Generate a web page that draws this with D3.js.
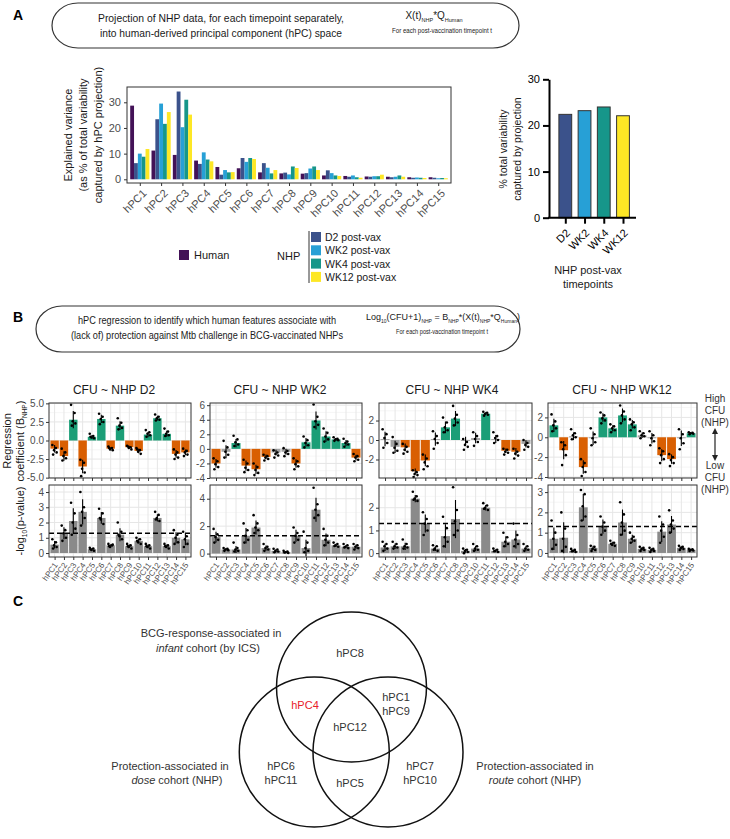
<!DOCTYPE html>
<html>
<head>
<meta charset="utf-8">
<script src="https://cdn.jsdelivr.net/npm/d3@7"></script>
<style>
  body { margin: 0; background: #fff; }
  svg text { font-family: "Liberation Sans", Arial, Helvetica, sans-serif; }
</style>
</head>
<body>
<svg id="fig" width="730" height="839"></svg>
<script>
// ---------- data ----------
const hpcLabels = ["hPC1", "hPC2", "hPC3", "hPC4", "hPC5", "hPC6", "hPC7", "hPC8",
  "hPC9", "hPC10", "hPC11", "hPC12", "hPC13", "hPC14", "hPC15"];

// panel A, explained variance (% of total variability captured by hPC projection)
const varGroups = ["Human", "D2 post-vax", "WK2 post-vax", "WK4 post-vax", "WK12 post-vax"];
const varHuman = [28.7, 11.2, 9.5, 7.3, 4.8, 4.3, 2.7, 2.3, 2.2, 1.5, 1.3, 1.1, 1.0, 0.8, 0.8];
const varD2 = [6.3, 23.4, 34.2, 6.0, 1.8, 8.3, 6.3, 2.6, 2.4, 3.5, 1.0, 1.0, 0.8, 0.6, 0.6];
const varWK2 = [10.0, 29.5, 20.3, 10.5, 3.6, 6.8, 4.5, 1.9, 4.2, 2.4, 1.5, 1.2, 1.0, 0.7, 0.4];
const varWK4 = [8.8, 21.6, 31.0, 7.7, 2.7, 8.3, 2.3, 5.0, 5.0, 1.5, 0.8, 1.2, 1.5, 0.6, 0.5];
const varWK12 = [11.8, 26.2, 25.2, 7.0, 2.8, 7.9, 3.6, 4.4, 3.6, 1.3, 0.6, 1.8, 1.0, 0.5, 0.4];

// panel A, total variability captured per NHP timepoint
const timepoints = ["D2", "WK2", "WK4", "WK12"];
const totalCaptured = [22.4, 23.2, 24.0, 22.1];

// panel B, regression coefficients ("+" / "-" / "0" n.s.)
const regTitles = ["CFU ~ NHP D2", "CFU ~ NHP WK2", "CFU ~ NHP WK4", "CFU ~ NHP WK12"];

const coefD2 = [-1.1, -2.1, 2.8, -3.5, 0.5, 2.9, -1.1, 2.0, -0.9, -1.4, 0.8, 3.0, 0.9, -1.8, -1.6];
const signD2 = ["-", "-", "+", "-", "+", "+", "-", "+", "-", "-", "+", "+", "+", "-", "-"];
const coefDotsD2 = ["-0.6 -1.0 -1.3 -1.6 -1.9", "-1.1 -1.6 -2.1 -2.4 -2.7", "4.8 3.7 2.6 2.3 2.0",
  "-2.6 -3.0 -3.8 -4.3 -4.8", "0.9 0.6 0.4 0.3 0.5", "3.6 3.2 2.9 2.5 2.2", "-0.8 -1.0 -1.2 -1.3 -1.0",
  "3.0 2.4 2.0 1.7 1.5", "-0.7 -0.9 -1.0 -1.2 -0.8", "-1.0 -1.3 -1.5 -1.8 -1.2", "1.4 1.1 0.9 0.7 0.5",
  "3.5 3.2 3.0 2.8 2.7", "1.6 1.2 0.9 0.7 0.6", "-1.2 -1.6 -1.9 -2.3 -2.5", "-1.1 -1.4 -1.6 -1.9 -2.1"];
const pD2 = [0.55, 1.3, 2.1, 2.7, 0.25, 2.3, 0.5, 1.2, 0.45, 0.8, 0.45, 2.3, 0.45, 1.0, 0.9];
const pDotsD2 = ["0.9 0.7 0.5 0.4 0.3", "1.8 1.5 1.3 1.0 0.8", "3.3 2.6 2.0 1.6 1.2", "4.0 3.0 2.7 2.3 1.8",
  "0.35 0.3 0.2 0.15 0.25", "2.9 2.6 2.2 1.9 2.3", "0.6 0.5 0.4 0.55 0.45", "2.0 1.4 1.1 0.9 1.2",
  "0.6 0.5 0.4 0.3 0.45", "1.0 0.9 0.7 0.6 0.8", "0.6 0.5 0.4 0.3 0.45", "2.7 2.5 2.3 2.1 2.2",
  "0.6 0.5 0.4 0.3 0.45", "1.5 1.2 1.0 0.7 0.6", "1.4 1.1 0.9 0.6 0.4"];

const coefWK2 = [-2.0, -0.4, 0.8, -2.3, -2.8, -1.1, -0.5, -0.4, -2.0, 0.9, 3.9, 1.7, 1.3, 0.8, -1.2];
const signWK2 = ["-", "0", "+", "-", "-", "-", "0", "0", "-", "+", "+", "+", "+", "+", "-"];
const coefDotsWK2 = ["-1.3 -1.7 -2.1 -2.5 -2.8", "1.1 0.2 -0.4 -0.8 -1.2", "1.8 1.3 0.9 0.6 0.4",
  "-1.5 -2.0 -2.6 -2.9 -3.2", "-2.0 -2.5 -2.9 -3.3 -3.6", "-0.8 -1.0 -1.2 -1.4 -1.6", "-0.2 -0.5 -0.7 -0.9 -1.2",
  "0.1 -0.3 -0.5 -0.7 -1.0", "-1.3 -1.7 -2.1 -2.4 -2.8", "1.7 1.2 0.8 0.5 0.2", "6.1 4.4 3.8 3.3 3.0",
  "2.8 2.2 1.7 1.3 1.0", "1.6 1.4 1.3 1.2 1.1", "1.4 1.0 0.8 0.6 0.3", "-0.7 -1.0 -1.2 -1.5 -1.7"];
const pWK2 = [1.2, 0.3, 0.3, 1.3, 1.9, 0.4, 0.2, 0.1, 1.3, 0.4, 3.2, 1.0, 0.6, 0.5, 0.5];
const pDotsWK2 = ["1.8 1.4 1.2 1.0 0.8", "0.4 0.35 0.3 0.25 0.2", "0.8 0.4 0.3 0.2 0.15", "2.2 1.7 1.3 1.0 0.8",
  "2.8 2.2 1.9 1.7 1.5", "0.7 0.5 0.4 0.3 0.2", "0.35 0.3 0.2 0.15 0.1", "0.2 0.15 0.1 0.05 0.08",
  "1.9 1.5 1.3 1.0 0.8", "1.6 0.8 0.4 0.2 0.1", "4.8 3.6 3.2 2.8 2.6", "1.8 1.3 1.0 0.8 0.6",
  "0.8 0.7 0.6 0.5 0.55", "0.7 0.6 0.5 0.4 0.45", "0.7 0.6 0.5 0.4 0.3"];

const coefWK4 = [0.1, -0.7, -0.75, -3.2, -2.1, 0.1, 1.3, 2.2, -0.1, 0.2, 2.7, 0.1, -1.1, -1.2, -0.4];
const signWK4 = ["0", "0", "-", "-", "-", "0", "+", "+", "0", "0", "+", "0", "-", "-", "0"];
const coefDotsWK4 = ["1.1 0.6 0.2 -0.3 -0.8", "0.3 -0.4 -0.8 -1.1 -1.3", "-0.4 -0.7 -1.0 -1.2 -1.4",
  "-3.1 -3.3 -3.5 -3.6 -3.8", "-1.5 -1.9 -2.3 -2.7 -3.0", "0.9 0.4 0.1 -0.3 -0.9", "2.3 1.8 1.3 1.0 0.8",
  "3.5 2.6 2.2 1.8 1.5", "0.1 -0.2 -0.5 -0.7 -1.0", "0.8 0.4 0.1 -0.2 -0.6", "2.9 2.8 2.7 2.6 2.5",
  "0.8 0.4 0.2 0.0 -0.3", "-0.9 -1.0 -1.2 -1.3 -1.5", "-0.9 -1.2 -1.4 -1.6 -1.9", "0.0 -0.3 -0.5 -0.7 -1.0"];
const pWK4 = [0.25, 0.3, 0.3, 2.4, 1.3, 0.2, 0.75, 1.5, 0.1, 0.2, 2.0, 0.1, 0.5, 0.6, 0.2];
const pDotsWK4 = ["0.5 0.4 0.3 0.2 0.1", "0.5 0.4 0.3 0.25 0.2", "0.6 0.4 0.3 0.25 0.2", "2.7 2.5 2.4 2.3 2.35",
  "1.8 1.5 1.3 1.0 0.8", "0.35 0.3 0.2 0.1 0.15", "1.6 1.1 0.7 0.5 0.3", "2.9 1.9 1.4 1.0 0.8",
  "0.2 0.15 0.1 0.05 0.0", "0.4 0.3 0.2 0.15 0.1", "2.2 2.1 2.0 1.9 1.95", "0.2 0.15 0.1 0.05 0.08",
  "0.9 0.7 0.5 0.4 0.3", "1.3 0.8 0.6 0.4 0.3", "0.4 0.3 0.2 0.15 0.1"];

const coefWK12 = [1.2, -1.3, 0.1, -3.0, -0.1, 2.0, 0.9, 2.2, 1.3, 0.2, -0.1, -1.8, -2.2, -0.1, 0.4];
const signWK12 = ["+", "-", "0", "-", "0", "+", "+", "+", "+", "0", "0", "-", "-", "0", "+"];
const coefDotsWK12 = ["2.3 1.6 1.2 0.9 0.6", "-0.5 -0.8 -1.2 -1.8 -2.8", "0.8 0.4 0.2 0.0 -0.2",
  "-2.2 -2.6 -3.0 -3.5 -3.9", "0.9 0.3 -0.1 -0.5 -0.8", "2.5 2.2 1.9 1.7 1.4", "1.3 1.1 0.9 0.7 0.5",
  "3.2 2.6 2.2 1.8 1.4", "1.8 1.5 1.3 1.0 0.7", "0.6 0.4 0.2 0.1 -0.1", "0.6 0.2 -0.1 -0.4 -0.8",
  "-1.1 -1.4 -1.8 -2.2 -2.6", "-1.7 -2.0 -2.3 -2.6 -2.9", "0.8 0.3 -0.1 -0.6 -1.2", "0.5 0.45 0.4 0.35 0.3"];
const pWK12 = [0.7, 0.75, 0.1, 2.25, 0.25, 1.3, 0.45, 1.5, 0.7, 0.2, 0.15, 1.05, 1.4, 0.25, 0.15];
const pDotsWK12 = ["1.6 1.0 0.7 0.4 0.2", "2.0 1.2 0.7 0.3 0.1", "0.2 0.15 0.1 0.05 0.08", "3.1 2.9 2.3 1.8 1.6",
  "0.35 0.3 0.2 0.15 0.1", "1.8 1.5 1.3 1.1 0.9", "0.6 0.5 0.4 0.35 0.45", "2.5 1.9 1.5 1.1 0.9",
  "1.0 0.8 0.7 0.6 0.5", "0.3 0.25 0.2 0.15 0.1", "0.25 0.2 0.15 0.1 0.05", "1.8 1.4 1.1 0.8 0.5",
  "2.1 1.6 1.4 1.2 1.0", "0.35 0.3 0.25 0.2 0.15", "0.2 0.18 0.15 0.12 0.1"];

const pThreshold = 1.3; // -log10(0.05)

// panel C, Venn regions
const vennSets = ["infant", "dose", "route"];
const vennRegions = [
  { set: "infant", lines: ["hPC8"] },
  { set: "infant+dose", lines: ["hPC4"], highlight: true },
  { set: "infant+route", lines: ["hPC1", "hPC9"] },
  { set: "all", lines: ["hPC12"] },
  { set: "dose", lines: ["hPC6", "hPC11"] },
  { set: "dose+route", lines: ["hPC5"] },
  { set: "route", lines: ["hPC7", "hPC10"] }
];

// ---------- setup ----------
const svg = d3.select("#fig");
const varColors = ["#431257", "#3b528b", "#27a0d6", "#16968a", "#fde725"];
const signColor = { "+": "#1b9e77", "-": "#d95f02", "0": "#a3a3a3" };

// text with subscript parts: parts = [[text, isSub], ...]
function rich(sel, parts, subSize) {
  let down = false;
  parts.forEach(([t, sub]) => {
    const ts = sel.append("tspan").text(t);
    if (sub) {
      ts.style("font-size", subSize + "px");
      if (!down) { ts.attr("dy", 2.5); down = true; }
    } else if (down) {
      ts.attr("dy", -2.5); down = false;
    }
  });
  return sel;
}

function label(x, y, txt, size, opts = {}) {
  const t = svg.append("text").attr("x", x).attr("y", y)
    .style("font-size", size + "px")
    .attr("text-anchor", opts.anchor || "middle")
    .attr("fill", opts.fill || "#1a1a1a");
  if (opts.bold) t.style("font-weight", "bold");
  if (opts.rotate) t.attr("transform", `rotate(${opts.rotate},${x},${y})`);
  if (opts.width) t.attr("textLength", opts.width).attr("lengthAdjust", "spacingAndGlyphs");
  if (Array.isArray(txt)) rich(t, txt, opts.sub || size * 0.6); else t.text(txt);
  return t;
}

// two-part label with an italic first word
function italicLead(x, y, lead, rest) {
  const t = svg.append("text").attr("x", x).attr("y", y).attr("text-anchor", "middle")
    .style("font-size", "11px").attr("fill", "#333");
  t.append("tspan").text(lead).style("font-style", "italic");
  t.append("tspan").text(rest);
}

function pill(x, y, w, h) {
  svg.append("rect").attr("x", x).attr("y", y).attr("width", w).attr("height", h)
    .attr("rx", 26).attr("ry", h / 2)
    .attr("fill", "none").attr("stroke", "#333").attr("stroke-width", 1.2);
}

// ---------- panel A ----------
label(13, 20, "A", 14, { bold: true, anchor: "start", fill: "#000" });
pill(52, 3, 467, 45);
label(221, 22, "Projection of NHP data, for each timepoint separately,", 10.5, { width: 246 });
label(221, 37, "into human-derived principal component (hPC) space", 10.5, { width: 242 });
label(434, 19, [["X(t)"], ["NHP", true], ["*Q"], ["Human", true]], 10, { sub: 5.5 });
label(442, 33, "For each post-vaccination timepoint t", 8, { width: 100 });

// explained variance grouped bars
const aX = d3.scalePoint().domain(hpcLabels).range([127, 451]).padding(0.6);
const aY = d3.scaleLinear().domain([-1.44, 35.96]).range([183, 87]);
const aSub = d3.scaleBand().domain(varGroups)
  .range([-aX.step() * 0.45, aX.step() * 0.45]);
const varSeries = [varHuman, varD2, varWK2, varWK4, varWK12];

varGroups.forEach((grp, gi) => {
  svg.append("g").selectAll("rect")
    .data(varSeries[gi])
    .join("rect")
    .attr("x", (d, i) => aX(hpcLabels[i]) + aSub(grp))
    .attr("y", d => aY(d))
    .attr("width", aSub.bandwidth())
    .attr("height", d => aY(0) - aY(d))
    .attr("fill", varColors[gi]);
});

svg.append("rect").attr("x", 127).attr("y", 87).attr("width", 324).attr("height", 96)
  .attr("fill", "none").attr("stroke", "#333").attr("stroke-width", 1);

const aYAxis = svg.append("g").attr("transform", "translate(127,0)")
  .call(d3.axisLeft(aY).tickValues([0, 10, 20, 30]).tickSize(3).tickPadding(3));
aYAxis.select(".domain").remove();
aYAxis.selectAll("line").attr("stroke", "#333");
aYAxis.selectAll("text").style("font-size", "11px").attr("fill", "#4d4d4d");

const aXAxis = svg.append("g").attr("transform", "translate(0,183)")
  .call(d3.axisBottom(aX).tickSize(3).tickSizeOuter(0));
aXAxis.select(".domain").remove();
aXAxis.selectAll("line").attr("stroke", "#333");
aXAxis.selectAll("text")
  .style("font-size", "11px").attr("fill", "#4d4d4d")
  .attr("text-anchor", "end").attr("dy", 0).attr("y", 0)
  .attr("transform", "translate(7,11) rotate(-45)");

label(71.5, 135, "Explained variance", 11, { rotate: -90 });
label(86.5, 135, "(as % of total variability", 11, { rotate: -90 });
label(101.5, 135, "captured by hPC projection)", 11, { rotate: -90 });

// legend
svg.append("rect").attr("x", 179).attr("y", 250).attr("width", 10).attr("height", 10).attr("fill", varColors[0]);
label(194, 259, "Human", 11, { anchor: "start" });
label(277, 260, "NHP", 11, { anchor: "start" });
svg.append("line").attr("x1", 309).attr("x2", 309).attr("y1", 231).attr("y2", 283)
  .attr("stroke", "#333").attr("stroke-width", 1);
varGroups.slice(1).forEach((grp, i) => {
  svg.append("rect").attr("x", 311).attr("y", 232 + i * 13.3).attr("width", 10).attr("height", 10)
    .attr("fill", varColors[i + 1]);
  label(325, 241 + i * 13.3, grp, 10.5, { anchor: "start" });
});

// total captured bars
const tX = d3.scalePoint().domain(timepoints).range([565.3, 623]);
const tY = d3.scaleLinear().domain([0, 30]).range([217.7, 79.3]);
svg.append("g").selectAll("rect")
  .data(totalCaptured)
  .join("rect")
  .attr("x", (d, i) => tX(timepoints[i]) - 6.4)
  .attr("y", d => tY(d))
  .attr("width", 12.8)
  .attr("height", d => tY(0) - tY(d))
  .attr("fill", (d, i) => varColors[i + 1])
  .attr("stroke", "#333").attr("stroke-width", 1);

const tYAxis = svg.append("g").attr("transform", "translate(549,0)")
  .call(d3.axisLeft(tY).tickValues([0, 10, 20, 30]).tickSize(6).tickSizeOuter(0).tickPadding(3));
tYAxis.selectAll("path, line").attr("stroke", "#000").attr("stroke-width", 2);
tYAxis.selectAll("text").style("font-size", "11px").attr("fill", "#000");
svg.append("line").attr("x1", 548).attr("x2", 636).attr("y1", tY(0)).attr("y2", tY(0))
  .attr("stroke", "#000").attr("stroke-width", 2);
const tXAxis = svg.append("g").attr("transform", `translate(0,${tY(0)})`)
  .call(d3.axisBottom(tX).tickSize(6).tickSizeOuter(0));
tXAxis.select(".domain").remove();
tXAxis.selectAll("line").attr("stroke", "#000").attr("stroke-width", 2);
tXAxis.selectAll("text")
  .style("font-size", "11px").attr("fill", "#000")
  .attr("text-anchor", "end").attr("dy", 0).attr("y", 0)
  .attr("transform", "translate(5,16) rotate(-45)");

label(507, 149, "% total variability", 10.5, { rotate: -90 });
label(521, 149, "captured by projection", 10.5, { rotate: -90 });
label(588, 274, "NHP post-vax", 11);
label(588, 288, "timepoints", 11);

// ---------- panel B ----------
label(13, 322, "B", 14, { bold: true, anchor: "start", fill: "#000" });
pill(36, 306, 484, 46);
label(207, 324, "hPC regression to identify which human features associate with", 10.5, { width: 258 });
label(207, 339, "(lack of) protection against Mtb challenge in BCG-vaccinated NHPs", 10.5, { width: 272 });
label(443, 320, [["Log"], ["10", true], ["(CFU+1)"], ["NHP", true], [" = B"], ["NHP", true],
  ["*(X(t)"], ["NHP", true], ["*Q"], ["Human", true], [")"]], 9, { sub: 5 });
label(442, 334, "For each post-vaccination timepoint t", 8, { width: 92 });

const regPanels = [
  { title: regTitles[0], tx: 114, x0: 49, x1: 191, coef: coefD2, sign: signD2, cdots: coefDotsD2,
    cDom: [-5.05, 5.05], cTicks: [-5, -2.5, 0, 2.5, 5], cFmt: ".1f",
    p: pD2, pdots: pDotsD2, pDom: [-0.26, 4.46], pTicks: [0, 1, 2, 3, 4] },
  { title: regTitles[1], tx: 280, x0: 210, x1: 362, coef: coefWK2, sign: signWK2, cdots: coefDotsWK2,
    cDom: [-4.0, 6.3], cTicks: [-4, -2, 0, 2, 4, 6], cFmt: "d",
    p: pWK2, pdots: pDotsWK2, pDom: [-0.25, 5.0], pTicks: [0, 2, 4] },
  { title: regTitles[2], tx: 452, x0: 379, x1: 532, coef: coefWK4, sign: signWK4, cdots: coefDotsWK4,
    cDom: [-3.9, 3.8], cTicks: [-2, 0, 2], cFmt: "d",
    p: pWK4, pdots: pDotsWK4, pDom: [-0.17, 3.0], pTicks: [0, 1, 2] },
  { title: regTitles[3], tx: 622, x0: 548, x1: 697, coef: coefWK12, sign: signWK12, cdots: coefDotsWK12,
    cDom: [-4.1, 3.45], cTicks: [-4, -2, 0, 2], cFmt: "d",
    p: pWK12, pdots: pDotsWK12, pDom: [-0.2, 3.35], pTicks: [0, 1, 2, 3] }
];

const jitter = [-0.24, 0.14, -0.06, 0.22, -0.16];

function facet(x, y, ticks, fmt, values, fills, dotStrings, dashed) {
  const [yb, yt] = y.range();
  const [x0, x1] = [x.range()[0], x.range()[1]];
  const g = svg.append("g");
  const step = ticks[1] - ticks[0];
  const minor = [];
  for (let v = ticks[0] - step / 2; v <= ticks[ticks.length - 1] + step / 2; v += step) {
    if (v >= y.domain()[0] && v <= y.domain()[1]) minor.push(v);
  }
  g.selectAll(".minor").data(minor).join("line")
    .attr("x1", x0).attr("x2", x1).attr("y1", d => y(d)).attr("y2", d => y(d))
    .attr("stroke", "#f0f0f0").attr("stroke-width", 0.6);
  g.selectAll(".major").data(ticks).join("line")
    .attr("x1", x0).attr("x2", x1).attr("y1", d => y(d)).attr("y2", d => y(d))
    .attr("stroke", "#e6e6e6").attr("stroke-width", 1);
  g.selectAll(".vgrid").data(hpcLabels).join("line")
    .attr("x1", d => x(d)).attr("x2", d => x(d)).attr("y1", yt).attr("y2", yb)
    .attr("stroke", "#e6e6e6").attr("stroke-width", 1);

  const bw = x.step() * 0.9;
  g.selectAll(".bar").data(values).join("rect")
    .attr("x", (d, i) => x(hpcLabels[i]) - bw / 2)
    .attr("y", d => Math.min(y(d), y(0)))
    .attr("width", bw)
    .attr("height", d => Math.abs(y(d) - y(0)))
    .attr("fill", (d, i) => fills[i]);

  const dots = dotStrings.map(s => s.split(" ").map(Number));
  g.selectAll(".err").data(values).join("line")
    .attr("x1", (d, i) => x(hpcLabels[i])).attr("x2", (d, i) => x(hpcLabels[i]))
    .attr("y1", (d, i) => y(d - d3.deviation(dots[i])))
    .attr("y2", (d, i) => y(d + d3.deviation(dots[i])))
    .attr("stroke", "#000").attr("stroke-width", 1.1);
  const pts = [];
  dots.forEach((arr, i) => arr.forEach((v, j) => pts.push({ c: hpcLabels[i], v, j })));
  g.selectAll(".dot").data(pts).join("circle")
    .attr("cx", d => x(d.c) + jitter[d.j % jitter.length] * x.step())
    .attr("cy", d => y(d.v))
    .attr("r", 1.3).attr("fill", "#000");

  if (dashed !== undefined) {
    g.append("line").attr("x1", x0).attr("x2", x1).attr("y1", y(dashed)).attr("y2", y(dashed))
      .attr("stroke", "#000").attr("stroke-width", 1.5).attr("stroke-dasharray", "5,3");
  }

  g.append("rect").attr("x", x0).attr("y", yt).attr("width", x1 - x0).attr("height", yb - yt)
    .attr("fill", "none").attr("stroke", "#333").attr("stroke-width", 1);

  const yAxis = g.append("g").attr("transform", `translate(${x0},0)`)
    .call(d3.axisLeft(y).tickValues(ticks).tickSize(3).tickPadding(2)
      .tickFormat(d => d3.format(fmt)(d).replace("\u2212", "-")));
  yAxis.select(".domain").remove();
  yAxis.selectAll("line").attr("stroke", "#333");
  yAxis.selectAll("text").style("font-size", "10px").attr("fill", "#4d4d4d");

  const xAxis = g.append("g").attr("transform", `translate(0,${yb})`)
    .call(d3.axisBottom(x).tickSize(3).tickSizeOuter(0));
  xAxis.select(".domain").remove();
  xAxis.selectAll("line").attr("stroke", "#333");
  return xAxis;
}

regPanels.forEach(p => {
  const x = d3.scalePoint().domain(hpcLabels).range([p.x0, p.x1]).padding(0.6);
  label(p.tx, 394, p.title, 12);

  const yc = d3.scaleLinear().domain(p.cDom).range([478, 403]);
  const topAxis = facet(x, yc, p.cTicks, p.cFmt, p.coef, p.sign.map(s => signColor[s]), p.cdots);
  topAxis.selectAll("text").remove();

  const yp = d3.scaleLinear().domain(p.pDom).range([557, 485]);
  const botAxis = facet(x, yp, p.pTicks, "d", p.p, p.p.map(() => "#8a8a8a"), p.pdots, pThreshold);
  botAxis.selectAll("text")
    .style("font-size", "8px").attr("fill", "#4d4d4d")
    .attr("text-anchor", "end").attr("dy", 0).attr("y", 0)
    .attr("transform", "translate(3,8) rotate(-55)");
});

label(11, 441, "Regression", 11, { rotate: -90 });
label(24, 441, [["coefficient (B"], ["NHP", true], [")"]], 11, { rotate: -90, sub: 6.5 });
label(24, 521, [["-log"], ["10", true], ["(p-value)"]], 11, { rotate: -90, sub: 6.5 });

// high / low CFU annotation
const defs = svg.append("defs");
defs.append("marker").attr("id", "arr").attr("viewBox", "0 0 10 10").attr("refX", 5).attr("refY", 5)
  .attr("markerWidth", 5).attr("markerHeight", 5).attr("orient", "auto-start-reverse")
  .append("path").attr("d", "M0,0 L10,5 L0,10 z").attr("fill", "#222");
["High", "CFU", "(NHP)"].forEach((t, i) => label(715, 402 + i * 12, t, 10, { fill: "#333" }));
svg.append("line").attr("x1", 715).attr("x2", 715).attr("y1", 431).attr("y2", 458)
  .attr("stroke", "#222").attr("stroke-width", 1.2)
  .attr("marker-start", "url(#arr)").attr("marker-end", "url(#arr)");
["Low", "CFU", "(NHP)"].forEach((t, i) => label(715, 469 + i * 12, t, 10, { fill: "#333" }));

// ---------- panel C ----------
label(13, 606, "C", 14, { bold: true, anchor: "start", fill: "#000" });
const vennR = 75;
const vennCenter = { infant: [351.5, 687], dose: [314.3, 752], route: [388, 752] };
svg.append("g").selectAll("circle").data(vennSets).join("circle")
  .attr("cx", d => vennCenter[d][0]).attr("cy", d => vennCenter[d][1]).attr("r", vennR)
  .attr("fill", "none").attr("stroke", "#111").attr("stroke-width", 1.5);

const regionPos = {
  "infant": [350, 657], "infant+dose": [305, 709], "infant+route": [396, 701],
  "all": [350, 731], "dose": [281, 770], "dose+route": [350, 787], "route": [420, 770]
};
vennRegions.forEach(r => {
  const [cx, cy] = regionPos[r.set];
  r.lines.forEach((t, i) => label(cx, cy + i * 14, t, 11, { fill: r.highlight ? "#e8202a" : "#333" }));
});

label(211, 637, "BCG-response-associated in", 11, { fill: "#333" });
italicLead(208, 652, "infant", " cohort (by ICS)");
label(170, 770, "Protection-associated in", 11, { fill: "#333" });
italicLead(177, 784, "dose", " cohort (NHP)");
label(535, 770, "Protection-associated in", 11, { fill: "#333" });
italicLead(535, 784, "route", " cohort (NHP)");
</script>
</body>
</html>
